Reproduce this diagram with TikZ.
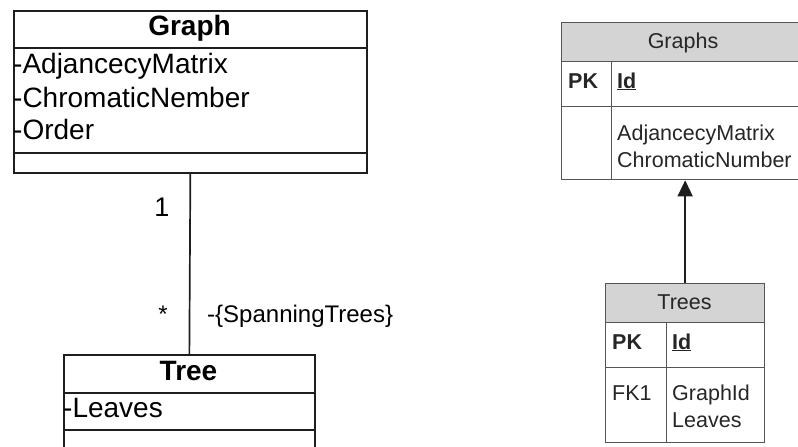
\documentclass[tikz,border=0pt]{standalone}
\usepackage{fontspec}
\setmainfont{Liberation Sans}
\usetikzlibrary{arrows.meta}
\definecolor{hdrgray}{HTML}{D4D4D4}
\definecolor{tblline}{HTML}{555555}
\definecolor{umlline}{HTML}{1E1E1E}
\begin{document}
\begin{tikzpicture}[x=1pt,y=-1pt,
  umlbox/.style={draw=umlline,line width=1.7pt,inner sep=0pt,anchor=north west},
  tblbox/.style={draw=tblline,line width=1.3pt,inner sep=0pt,anchor=north west},
  tblhead/.style={tblbox,fill=hdrgray},
  umltxt/.style={inner sep=0pt,font=\fontsize{28}{33}\selectfont},
  umltitle/.style={inner sep=0pt,font=\fontsize{28}{33}\selectfont\bfseries},
  lbl/.style={inner sep=0pt,font=\fontsize{24}{28}\selectfont},
  tbltxt/.style={inner sep=0pt,font=\fontsize{21.5}{26}\selectfont,text=black!85},
  tblbold/.style={tbltxt,font=\fontsize{21.5}{26}\selectfont\bfseries}]
\useasboundingbox (0,0) rectangle (798,447);

% ---------- UML class Graph ----------
\node[umlbox,minimum width=353pt,minimum height=37pt] (ghead) at (13,10) {};
\node[umlbox,minimum width=353pt,minimum height=105pt] (gattr) at (13,47) {};
\node[umlbox,minimum width=353pt,minimum height=20pt] (gops) at (13,152) {};
\node[umltitle,anchor=base] (gtitle) at (189.5,35) {Graph};
\node[umltxt,anchor=base west] (ga1) at (13,73) {-AdjancecyMatrix};
\node[umltxt,anchor=base west] (ga2) at (13,107) {-ChromaticNember};
\node[umltxt,anchor=base west] (ga3) at (13,139) {-Order};

% ---------- UML class Tree ----------
\node[umlbox,minimum width=251pt,minimum height=38pt] (thead) at (63,354) {};
\node[umlbox,minimum width=251pt,minimum height=37pt] (tattr) at (63,392) {};
\node[umlbox,minimum width=251pt,minimum height=37pt] (tops) at (63,429) {};
\node[umltitle,anchor=base] (ttitle) at (188.5,380) {Tree};
\node[umltxt,anchor=base west] (ta1) at (63,417) {-Leaves};

% association
\draw[umlline,line width=1.7pt] (gops.south) -- (thead.north);
\node[lbl,anchor=base,font=\fontsize{27}{30}\selectfont] (m1) at (162,216) {1};
\node[lbl,anchor=base] (m2) at (163,322) {*};
\node[lbl,anchor=base west] (role) at (207,322) {-\{SpanningTrees\}};

% ---------- Table Graphs ----------
\node[tblhead,minimum width=259pt,minimum height=39pt] (gshead) at (561,22) {};
\node[tblbox,minimum width=50pt,minimum height=45pt] (gspk) at (561,61) {};
\node[tblbox,minimum width=209pt,minimum height=45pt] (gsid) at (611,61) {};
\node[tblbox,minimum width=50pt,minimum height=73pt] (gsk) at (561,106) {};
\node[tblbox,minimum width=209pt,minimum height=73pt] (gsbody) at (611,106) {};
\node[tbltxt,anchor=base] (gsname) at (683,48) {Graphs};
\node[tblbold,anchor=base west] (gspkt) at (568,88) {PK};
\node[tblbold,anchor=base west] (gsidt) at (617,88) {\underline{Id}};
\node[tbltxt,anchor=base west] (gsf1) at (617,140) {AdjancecyMatrix};
\node[tbltxt,anchor=base west] (gsf2) at (617,167) {ChromaticNumber};

% ---------- Table Trees ----------
\node[tblhead,minimum width=159pt,minimum height=39pt] (tshead) at (605,283) {};
\node[tblbox,minimum width=61pt,minimum height=45pt] (tspk) at (605,322) {};
\node[tblbox,minimum width=98pt,minimum height=45pt] (tsid) at (666,322) {};
\node[tblbox,minimum width=61pt,minimum height=75pt] (tsk) at (605,367) {};
\node[tblbox,minimum width=98pt,minimum height=75pt] (tsbody) at (666,367) {};
\node[tbltxt,anchor=base] (tsname) at (684.5,309) {Trees};
\node[tblbold,anchor=base west] (tspkt) at (612,349) {PK};
\node[tblbold,anchor=base west] (tsidt) at (672,349) {\underline{Id}};
\node[tbltxt,anchor=base west] (tsfk) at (612,400) {FK1};
\node[tbltxt,anchor=base west] (tsf1) at (672,400) {GraphId};
\node[tbltxt,anchor=base west] (tsf2) at (672,427) {Leaves};

% foreign key arrow
\draw[umlline,line width=1.4pt,-{Triangle[width=15pt,length=16pt]}]
  (tshead.north) -- (tshead.north |- gsbody.south);
\end{tikzpicture}
\end{document}
